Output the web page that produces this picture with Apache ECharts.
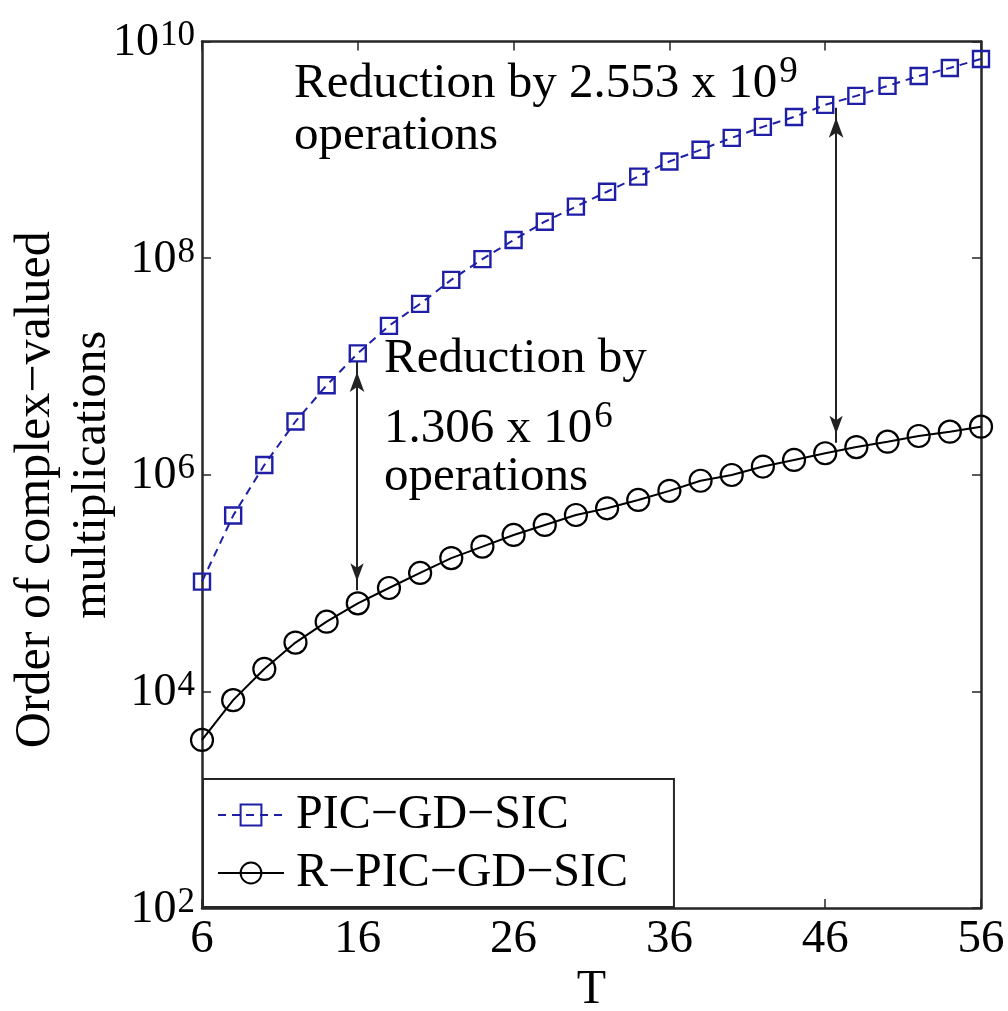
<!DOCTYPE html>
<html>
<head>
<meta charset="utf-8">
<script src="https://cdn.jsdelivr.net/npm/echarts@6/dist/echarts.min.js"></script>
<style>html,body{margin:0;padding:0;background:#fff}#c{width:1008px;height:1011px}</style>
</head>
<body>
<div id="c"></div>
<script>
// ---- data ----
const T = [6, 8, 10, 12, 14, 16, 18, 20, 22, 24, 26, 28, 30, 32, 34, 36, 38, 40, 42, 44, 46, 48, 50, 52, 54, 56];
const picGdSic = [1.03e5, 4.2e5, 1.23e6, 3.1e6, 6.7e6, 1.32e7, 2.37e7, 3.78e7, 6.3e7, 9.8e7, 1.47e8, 2.17e8, 2.99e8,
  4.1e8, 5.66e8, 7.8e8, 1.0e9, 1.29e9, 1.63e9, 2.01e9, 2.6e9, 3.15e9, 3.89e9, 4.8e9, 5.7e9, 6.9e9];
const rPicGdSic = [3.56e3, 8.3e3, 1.61e4, 2.82e4, 4.4e4, 6.5e4, 9.0e4, 1.24e5, 1.7e5, 2.17e5, 2.78e5, 3.44e5, 4.25e5,
  4.9e5, 5.85e5, 7.1e5, 8.8e5, 9.95e5, 1.19e6, 1.37e6, 1.58e6, 1.8e6, 2.02e6, 2.28e6, 2.5e6, 2.78e6];
const seriesNames = ['PIC−GD−SIC', 'R−PIC−GD−SIC'];
const xTickValues = [6, 16, 26, 36, 46, 56];
const yMin = 1e2, yMax = 1e10, yExpStep = 2;
// arrows (T position, bottom tip value, top tip value)
const arrowT = [15.95, 46.7];
const arrowBottom = [8.6e4, 1.97e6];
const arrowTop = [1.1e7, 2.44e9];
// annotation texts
const note1 = ['Reduction by 2.553 x 10', '9', 'operations'];
const note2 = ['Reduction by', '1.306 x 10', '6', 'operations'];
const xName = 'T';
const yNameLines = ['Order of complex−valued', 'multiplications'];

// ---- chart ----
const FONT = '"Liberation Serif", "Times New Roman", Times, serif';
const AX = '#262626';
const BLUE = '#1e1ea6';
const chart = echarts.init(document.getElementById('c'), null, {renderer: 'canvas'});

const supRich = (pad) => ({
  n: {fontFamily: FONT, fontSize: 49, lineHeight: 48, color: '#000', padding: [pad, 0, 0, 0]},
  s: {fontFamily: FONT, fontSize: 37, lineHeight: 36, color: '#000', verticalAlign: 'top', padding: [0, 0, 0, 2]},
  m: {fontFamily: FONT, fontSize: 49, lineHeight: 48, color: '#000'}
});

const arrowData = arrowT.map((t, i) => [
  {coord: [t, arrowBottom[i]], symbol: 'arrow', symbolSize: [10, 18], symbolOffset: [0, '50%']},
  {coord: [t, arrowTop[i]], symbol: 'arrow', symbolSize: [11, 20], symbolOffset: [0, '50%']}
]);

const xAxisBase = {
  type: 'value', min: 6, max: 56,
  axisLine: {show: true, onZero: false, lineStyle: {color: AX, width: 2.5}},
  axisTick: {show: true, inside: true, length: 9, lineStyle: {color: AX, width: 1.5}, customValues: xTickValues},
  splitLine: {show: false}
};
const yAxisBase = {
  type: 'log', logBase: 10, min: yMin, max: yMax, interval: yExpStep,
  axisLine: {show: true, onZero: false, lineStyle: {color: AX, width: 2.5}},
  axisTick: {show: true, inside: true, length: 9, lineStyle: {color: AX, width: 1.5}},
  minorTick: {show: false},
  splitLine: {show: false}
};

chart.setOption({
  animation: false,
  backgroundColor: '#fff',
  grid: {left: 202, right: 27, top: 41.5, bottom: 103, containLabel: false, outerBoundsMode: 'none'},
  xAxis: [
    Object.assign({}, xAxisBase, {
      position: 'bottom',
      name: xName, nameLocation: 'middle', nameGap: 58, nameMoveOverlap: false,
      nameTextStyle: {fontFamily: FONT, fontSize: 48, color: '#000'},
      axisLabel: {show: true, margin: 8, fontFamily: FONT, fontSize: 47, color: '#000', customValues: xTickValues}
    }),
    Object.assign({}, xAxisBase, {position: 'top', axisLabel: {show: false}})
  ],
  yAxis: [
    Object.assign({}, yAxisBase, {
      position: 'left',
      name: '{a|' + yNameLines[0] + '}\n{b|' + yNameLines[1] + '}',
      nameLocation: 'middle', nameGap: 81, nameRotate: 90, nameMoveOverlap: false,
      nameTextStyle: {
        fontFamily: FONT, fontSize: 48, lineHeight: 57, color: '#000',
        rich: {
          a: {fontFamily: FONT, fontSize: 50, lineHeight: 57, color: '#000', padding: [0, 30, 0, 0]},
          b: {fontFamily: FONT, fontSize: 48, lineHeight: 57, color: '#000'}
        }
      },
      axisLabel: {
        show: true, margin: 7, showMinLabel: true, showMaxLabel: true,
        formatter: (v) => '{b|10}{s|' + Math.round(Math.log10(v)) + '}',
        rich: {
          b: {fontFamily: FONT, fontSize: 46, lineHeight: 46, color: '#000', padding: [13, 0, 10, 0]},
          s: {fontFamily: FONT, fontSize: 35, lineHeight: 34, color: '#000', verticalAlign: 'top', padding: [0, 0, 0, 1]}
        }
      }
    }),
    Object.assign({}, yAxisBase, {position: 'right', axisLabel: {show: false}})
  ],
  legend: {
    orient: 'vertical', left: 203, top: 779,
    padding: [12, 46, 10, 14], itemGap: 10, itemWidth: 66, itemHeight: 26,
    backgroundColor: '#fff', borderColor: AX, borderWidth: 2,
    selectedMode: false,
    textStyle: {fontFamily: FONT, fontSize: 48, color: '#000', padding: [0, 0, 0, 7]},
    data: seriesNames
  },
  series: [
    {
      name: seriesNames[0], type: 'line', xAxisIndex: 0, yAxisIndex: 0,
      data: T.map((t, i) => [t, picGdSic[i]]),
      symbol: 'rect', symbolSize: 16,
      itemStyle: {color: 'rgba(0,0,0,0)', borderColor: BLUE, borderWidth: 2.4},
      lineStyle: {color: BLUE, width: 2, type: [8, 6]},
      emphasis: {disabled: true}, z: 3
    },
    {
      name: seriesNames[1], type: 'line', xAxisIndex: 0, yAxisIndex: 0,
      data: T.map((t, i) => [t, rPicGdSic[i]]),
      symbol: 'circle', symbolSize: 22,
      itemStyle: {color: 'rgba(0,0,0,0)', borderColor: '#000', borderWidth: 2.2},
      lineStyle: {color: '#000', width: 2, type: 'solid'},
      emphasis: {disabled: true}, z: 2,
      markLine: {
        silent: true, animation: false,
        label: {show: false},
        lineStyle: {color: '#222', width: 2, type: 'solid'},
        emphasis: {disabled: true},
        data: arrowData
      }
    }
  ],
  graphic: [
    {type: 'text', left: 294, top: 46, silent: true,
      style: {text: '{n|' + note1[0] + '}{s|' + note1[1] + '}', rich: supRich(14)}},
    {type: 'text', left: 294, top: 112, silent: true,
      style: {text: '{m|' + note1[2] + '}', rich: supRich(14)}},
    {type: 'text', left: 384, top: 335, silent: true,
      style: {text: '{m|' + note2[0] + '}', rich: supRich(14)}},
    {type: 'text', left: 384, top: 391, silent: true,
      style: {text: '{n|' + note2[1] + '}{s|' + note2[2] + '}', rich: supRich(14)}},
    {type: 'text', left: 384, top: 453, silent: true,
      style: {text: '{m|' + note2[3] + '}', rich: supRich(14)}}
  ]
});
</script>
</body>
</html>
